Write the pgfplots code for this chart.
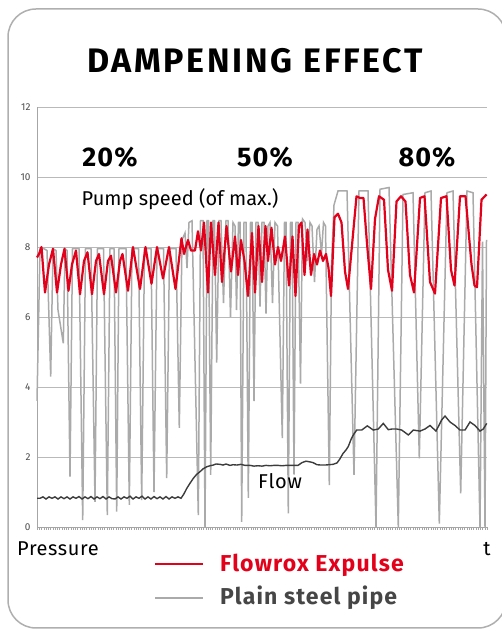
\documentclass[border=0pt]{standalone}
\usepackage{fontspec}
\setmainfont{Fira Sans}
\usepackage{pgfplots}
\pgfplotsset{compat=1.18}
\definecolor{exred}{RGB}{226,0,26}
\definecolor{pipegray}{RGB}{170,170,170}
\definecolor{flowdark}{RGB}{60,60,60}
\definecolor{frame}{RGB}{175,175,175}
\definecolor{legtext}{RGB}{70,70,70}
\begin{document}
\begin{tikzpicture}[x=1pt,y=1pt]
\useasboundingbox (0,0) rectangle (502,631);
\draw[frame, line width=1.5pt, rounded corners=28pt] (8,3) rectangle (506,622);

\begin{axis}[
    at={(37pt,104pt)}, anchor=south west,
    scale only axis, width=450pt, height=420pt,
    xmin=37, xmax=487, ymin=0, ymax=12,
    axis x line*=bottom, axis y line*=left,
    axis line style={-, draw=gray!70, line width=0.8pt},
    ytick={0,2,...,12},
    ymajorgrids, grid style={gray!55, line width=0.7pt},
    ytick style={draw=none},
    xtick={37,39.25,...,487.5}, xticklabels={},
    xtick style={draw=gray!70, line width=0.4pt},
    tick align=outside, major tick length=3pt,
    /pgf/number format/assume math mode=true,
    yticklabel style={font=\fontsize{10}{10}\selectfont, text=black!70},
    clip=false,
]
% plain steel pipe
\addplot[pipegray, line width=1.5pt] coordinates {
(37,3.6)(40,7.95)(44,7.95)(47,7.9)(50.7,4.3)(53,7.95)(56,7.9)(58,6.2)(63.3,5.25)(65,7.95)(67,7.9)
(70,1.44)(72.5,7.95)(79,7.95)(82.7,0.2)(85.5,7.95)(91,7.95)(95,0.72)(97.5,7.95)(103.5,7.95)
(107.3,0.34)(110,7.95)(114,7.95)(116.7,0.44)(119,7.95)(126,7.95)(129.3,0.63)(132,7.95)(138.5,7.95)
(141.7,0.77)(144.5,7.95)(151,7.95)(154,1.0)(157,7.95)(163.5,7.95)(166.7,1.4)(169.5,7.95)(176,7.95)
(179.3,2.83)(182,8.2)(185,8.4)(187,7.4)(189,8.7)(192,8.75)(198.3,0.34)(200.5,8.75)(203,8.75)
(205,0.0)(207,8.75)(208.5,8.75)(210.7,1.49)(213,8.75)(214.5,8.75)(216.7,4.7)(219,8.75)(221,8.75)
(223.5,6.4)(226,8.75)(228,8.75)(230.5,6.0)(233,8.7)(235,8.6)(236.5,6.2)(238.5,8.7)(240,8.7)
(241.7,0.15)(244,8.7)(246,8.7)(248.3,0.83)(250.5,8.7)(252,8.7)(254,3.6)(256,8.7)(258,8.7)
(260,6.3)(262,8.7)(264,8.7)(266,6.1)(268,8.6)(270,8.7)(272.5,6.4)(275,8.7)(277.5,8.6)
(282.3,2.54)(284.5,8.7)(286,8.7)(288.3,0.39)(290.5,8.7)(292,8.7)(294,1.5)(296,8.7)(298,8.7)
(300.5,4.1)(302.5,8.8)(305,8.7)(307.5,7.6)(310,8.7)(312,8.6)(314.5,7.0)(317,8.5)(319,8.6)
(321.5,7.8)(323.5,8.7)(325.5,8.6)(329.3,1.2)(331.5,7.5)(334,9.2)(338,9.6)(347,9.6)(354,1.49)
(359,9.6)(368,9.6)(376,0.0)(380,9.65)(389,9.7)(398.3,0.0)(403,9.5)(413,9.55)(419.3,1.96)
(425,9.55)(431,9.6)(439.3,0.1)(447,9.55)(453,9.6)(460.7,0.96)(467,9.6)(473,9.55)(480,0.0)
(482.5,8.15)(485,0.0)(486.5,8.2)
};

% flow
\addplot[flowdark, line width=1.4pt] coordinates {
(37,0.82)(40,0.82)(43,0.86)(46,0.8)(49,0.86)(52,0.82)(55,0.86)(58,0.8)(61,0.86)(64,0.81)(67,0.86)
(70,0.8)(73,0.86)(76,0.82)(79,0.87)(82,0.8)(85,0.86)(88,0.81)(91,0.87)(94,0.8)(97,0.86)(100,0.81)
(103,0.87)(106,0.8)(109,0.86)(112,0.81)(115,0.8)(118,0.86)(121,0.8)(124,0.86)(127,0.82)(130,0.88)
(133,0.8)(136,0.86)(139,0.82)(142,0.88)(145,0.8)(148,0.86)(151,0.8)(154,0.87)(157,0.81)(160,0.86)
(163,0.8)(166,0.87)(169,0.8)(172,0.86)(175,0.82)(178,0.86)(181,0.82)(184,0.95)(186.7,1.1)(190,1.25)
(193.3,1.39)(196.5,1.5)(200,1.58)(203,1.66)(206.7,1.72)(210,1.75)(213.3,1.77)(216,1.8)(220,1.79)
(223,1.77)(226,1.8)(230,1.76)(233,1.78)(237,1.77)(241,1.79)(245,1.76)(250,1.76)(254,1.74)(258,1.75)
(262,1.74)(266,1.76)(270,1.75)(274,1.76)(278,1.76)(282,1.75)(286,1.76)(290,1.76)(294,1.76)(298,1.76)
(302,1.84)(306,1.88)(310,1.86)(313,1.84)(317,1.78)(321,1.77)(325,1.77)(329,1.78)(333,1.79)(337,1.83)
(340,1.95)(343,2.1)(346,2.2)(348.3,2.3)(351,2.5)(353.3,2.63)(356.7,2.77)(361.7,2.77)(367.3,2.89)
(373.3,2.77)(378.3,2.8)(383.3,2.96)(388.3,2.78)(392,2.8)(396.7,2.8)(401.7,2.77)(408.3,2.63)(413.3,2.77)
(420,2.74)(425,2.8)(430,2.9)(436,2.74)(441.7,3.06)(445,3.17)(450,3.0)(455,2.9)(460,2.77)(465,2.77)
(470,3.0)(475,2.9)(480,2.74)(483.3,2.8)(486.7,2.96)
};

% Flowrox Expulse
\addplot[exred, line width=2.2pt, line join=round] coordinates {
(37,7.7)(39,7.8)(41.5,8.0)(45,6.7)(49,7.5)(53,7.95)(57,6.7)(61,7.5)(64.5,7.95)(68.5,6.75)(72,7.5)
(76,7.9)(80,6.65)(84,7.6)(87.5,7.85)(92,6.65)(96,7.6)(99,7.8)(104,6.65)(108,7.6)(111,7.75)(116,6.7)
(120,7.6)(122.5,7.8)(128,6.75)(133,8.0)(140,6.8)(145.5,8.0)(151.5,6.95)(157,8.0)(163,7.1)(169,8.0)
(175.5,6.8)(181.5,8.25)(184,7.8)(188,8.2)(191,7.9)(195,7.9)(198,8.45)(201,7.9)(204,8.7)(208,6.7)
(211,8.7)(215,7.2)(218.5,8.7)(222,7.0)(226.5,8.6)(231,7.3)(235,8.3)(238,7.2)(241,8.2)(244.5,7.6)
(248,6.6)(252,8.4)(255,6.7)(258.5,8.6)(262,7.0)(265.5,8.6)(268,7.6)(271.5,8.55)(275,7.5)(278,8.0)
(281,7.6)(285,8.3)(289,6.9)(292.5,8.3)(295.5,6.6)(299,8.6)(301.5,8.7)(304.5,7.2)(307.5,8.5)(311,7.2)
(314,7.8)(317,7.5)(320,7.9)(323,7.6)(326,7.8)(328.5,7.4)(331,6.6)(334.5,8.85)(338,8.95)(341.5,8.7)
(345,7.3)(348,6.8)(356.5,9.45)(360,9.4)(363.5,9.4)(367,8.1)(371,6.8)(375,8.8)(379,9.45)(384,9.35)
(388,7.35)(392,6.75)(396.5,9.3)(401,9.45)(405.5,9.3)(410,7.2)(414,6.7)(420,9.4)(424.5,9.45)(430,7.0)
(435,6.67)(441,9.4)(446.5,9.45)(451,7.35)(454.5,6.9)(460,9.45)(465.5,9.45)(471.5,7.5)(474.5,6.9)
(477,6.85)(481.5,9.35)(486.5,9.5)
};
\end{axis}

% legend
\draw[exred, line width=2.2pt] (155,67) -- (203,67);
\draw[pipegray, line width=2pt] (155,33) -- (203,33);
\node[anchor=base west, inner sep=0pt, text=exred,
    font=\fontsize{23}{23}\selectfont\bfseries\addfontfeatures{LetterSpace=5}] at (220,59) {Flowrox Expulse};
\node[anchor=base west, inner sep=0pt, text=legtext,
    font=\fontsize{23}{23}\selectfont\bfseries\addfontfeatures{LetterSpace=5}] at (220,26) {Plain steel pipe};

\node[font=\fontsize{34}{34}\selectfont\bfseries\addfontfeatures{LetterSpace=8}] at (255,570) {DAMPENING EFFECT};
\node[font=\fontsize{27}{27}\selectfont\bfseries\addfontfeatures{LetterSpace=4}] at (110,474) {20\%};
\node[font=\fontsize{27}{27}\selectfont\bfseries\addfontfeatures{LetterSpace=4}] at (265,474) {50\%};
\node[font=\fontsize{27}{27}\selectfont\bfseries\addfontfeatures{LetterSpace=4}] at (427,474) {80\%};
\node[font=\fontsize{20}{20}\selectfont] at (180,432) {Pump speed (of max.)};
\node[font=\fontsize{20}{20}\selectfont\addfontfeatures{LetterSpace=4}] at (280,150) {Flow};
\node[font=\fontsize{20}{20}\selectfont\addfontfeatures{LetterSpace=3}, anchor=west, inner sep=0pt] at (17,82) {Pressure};
\node[font=\fontsize{20}{20}\selectfont] at (487,82) {t};
\end{tikzpicture}
\end{document}
